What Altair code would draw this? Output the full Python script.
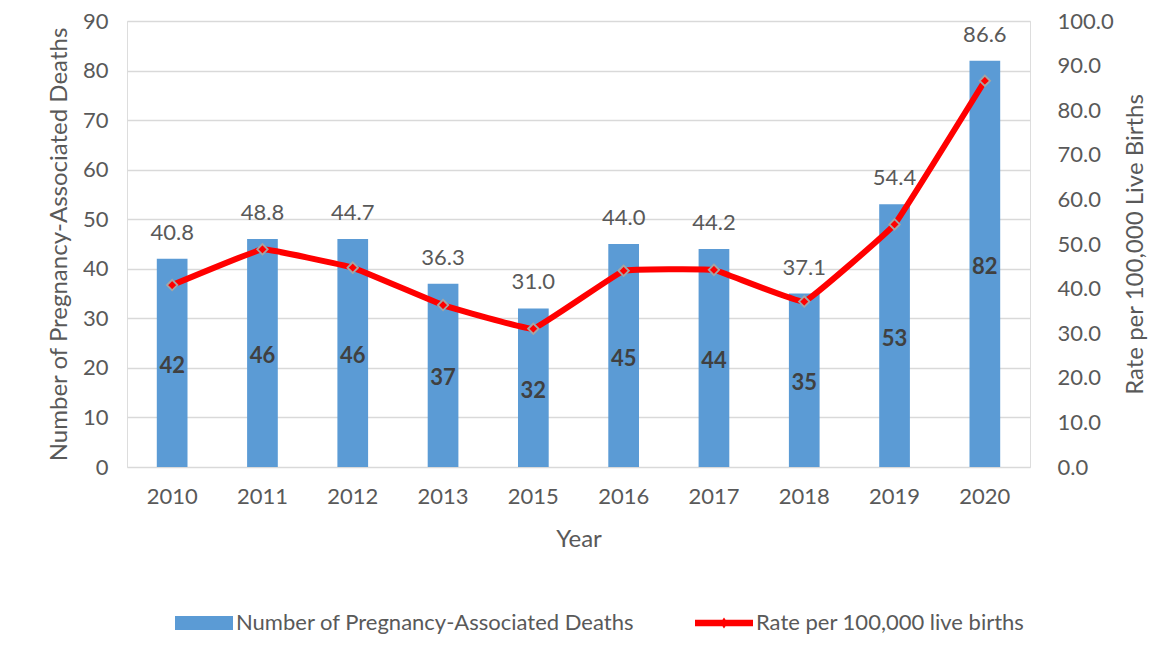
import altair as alt
import pandas as pd

years = ["2010", "2011", "2012", "2013", "2015", "2016", "2017", "2018", "2019", "2020"]
deaths = [42, 46, 46, 37, 32, 45, 44, 35, 53, 82]
rates = [40.8, 48.8, 44.7, 36.3, 31.0, 44.0, 44.2, 37.1, 54.4, 86.6]

series_names = ["Number of Pregnancy-Associated Deaths", "Rate per 100,000 live births"]
series_colors = ["#5B9BD5", "#FF0000"]

df = pd.DataFrame({"year": years, "deaths": deaths, "rate": rates})

FONT = "Lato"
GREY = "#595959"

x_enc = alt.X(
    "year:N", sort=years,
    scale=alt.Scale(paddingInner=0.66, paddingOuter=0.33),
    axis=alt.Axis(title="Year", labelAngle=0, labelFontSize=22, titleFontSize=24,
                  labelPadding=19, titlePadding=20, labelColor=GREY, titleColor=GREY,
                  ticks=False, domain=False, labelFont=FONT, titleFont=FONT,
                  titleFontWeight="normal"),
)

bar_shape = "M-1,-0.24H1V0.24H-1Z"
line_shape = "M-1,-0.11H1V0.11H-1Z M0,-0.19L0.13,0L0,0.19L-0.13,0Z"

bar_legend = alt.Legend(
    title=None, orient="none", legendX=48, legendY=573,
    labelOffset=3, symbolSize=3364, symbolType=bar_shape,
    symbolFillColor=series_colors[0], symbolStrokeWidth=0, symbolOpacity=1,
    labelFontSize=22, labelColor=GREY, labelFont=FONT, labelLimit=600,
)
line_legend = alt.Legend(
    title=None, orient="none", legendX=568, legendY=573,
    labelOffset=3, symbolSize=3364, symbolType=line_shape,
    symbolFillColor=series_colors[1], symbolStrokeWidth=0, symbolOpacity=1,
    labelFontSize=22, labelColor=GREY, labelFont=FONT, labelLimit=600,
)

base = alt.Chart(df)

bars = base.transform_calculate(series="'%s'" % series_names[0]).mark_bar().encode(
    x=x_enc,
    y=alt.Y("deaths:Q", scale=alt.Scale(domain=[0, 90]),
            axis=alt.Axis(title="Number of Pregnancy-Associated Deaths", values=list(range(0, 91, 10)),
                          orient="left", labelFontSize=22, titleFontSize=24, labelColor=GREY,
                          titleColor=GREY, ticks=False, domain=False, gridColor="#D9D9D9",
                          gridWidth=1.5, labelPadding=19, titlePadding=11, labelFont=FONT,
                          titleFont=FONT, titleFontWeight="normal")),
    fill=alt.Fill("series:N", scale=alt.Scale(domain=[series_names[0]], range=[series_colors[0]]),
                  legend=bar_legend),
)

bar_labels = base.transform_calculate(mid="datum.deaths / 2").mark_text(
    fontSize=22, fontWeight="bold", color="#404040", font=FONT, baseline="middle", dy=3).encode(
    x=x_enc,
    y=alt.Y("mid:Q"),
    text=alt.Text("deaths:Q"),
)

bar_layer = alt.layer(bars, bar_labels)

rate_y = alt.Y("rate:Q", scale=alt.Scale(domain=[0, 100]),
               axis=alt.Axis(title="Rate per 100,000 Live Births", orient="right", format=".1f",
                             values=list(range(0, 101, 10)), labelFontSize=22, titleFontSize=24,
                             labelColor=GREY, titleColor=GREY, ticks=False, domain=False,
                             grid=False, labelPadding=27, titlePadding=34, titleAngle=270,
                             labelFont=FONT, titleFont=FONT, titleFontWeight="normal"))

line = base.transform_calculate(series="'%s'" % series_names[1]).mark_line(
    strokeWidth=6, interpolate="cardinal", tension=0.8).encode(
    x=x_enc, y=rate_y,
    stroke=alt.Stroke("series:N", scale=alt.Scale(domain=[series_names[1]], range=[series_colors[1]]),
                      legend=line_legend),
)

points = base.mark_point(shape="diamond", filled=True, size=110, fill="#FF0000",
                         stroke="#A5A5A5", strokeWidth=1.8, opacity=1).encode(
    x=x_enc, y=alt.Y("rate:Q"),
)

rate_labels = base.transform_calculate(
    ly="max(datum.rate, datum.deaths * 100 / 90)").mark_text(
    fontSize=22, color=GREY, font=FONT, baseline="middle", dy=-26).encode(
    x=x_enc,
    y=alt.Y("ly:Q"),
    text=alt.Text("rate:Q", format=".1f"),
)

rate_layer = alt.layer(line, points, rate_labels)

chart = alt.layer(bar_layer, rate_layer).resolve_scale(y="independent").properties(
    width=903, height=446,
    padding={"left": 119, "top": 13, "right": 133, "bottom": 182},
    autosize=alt.AutoSizeParams(type="none"),
).configure_view(stroke=None).configure(background="white")

chart.save("out.html", embed_options={"renderer": "svg", "actions": False})
